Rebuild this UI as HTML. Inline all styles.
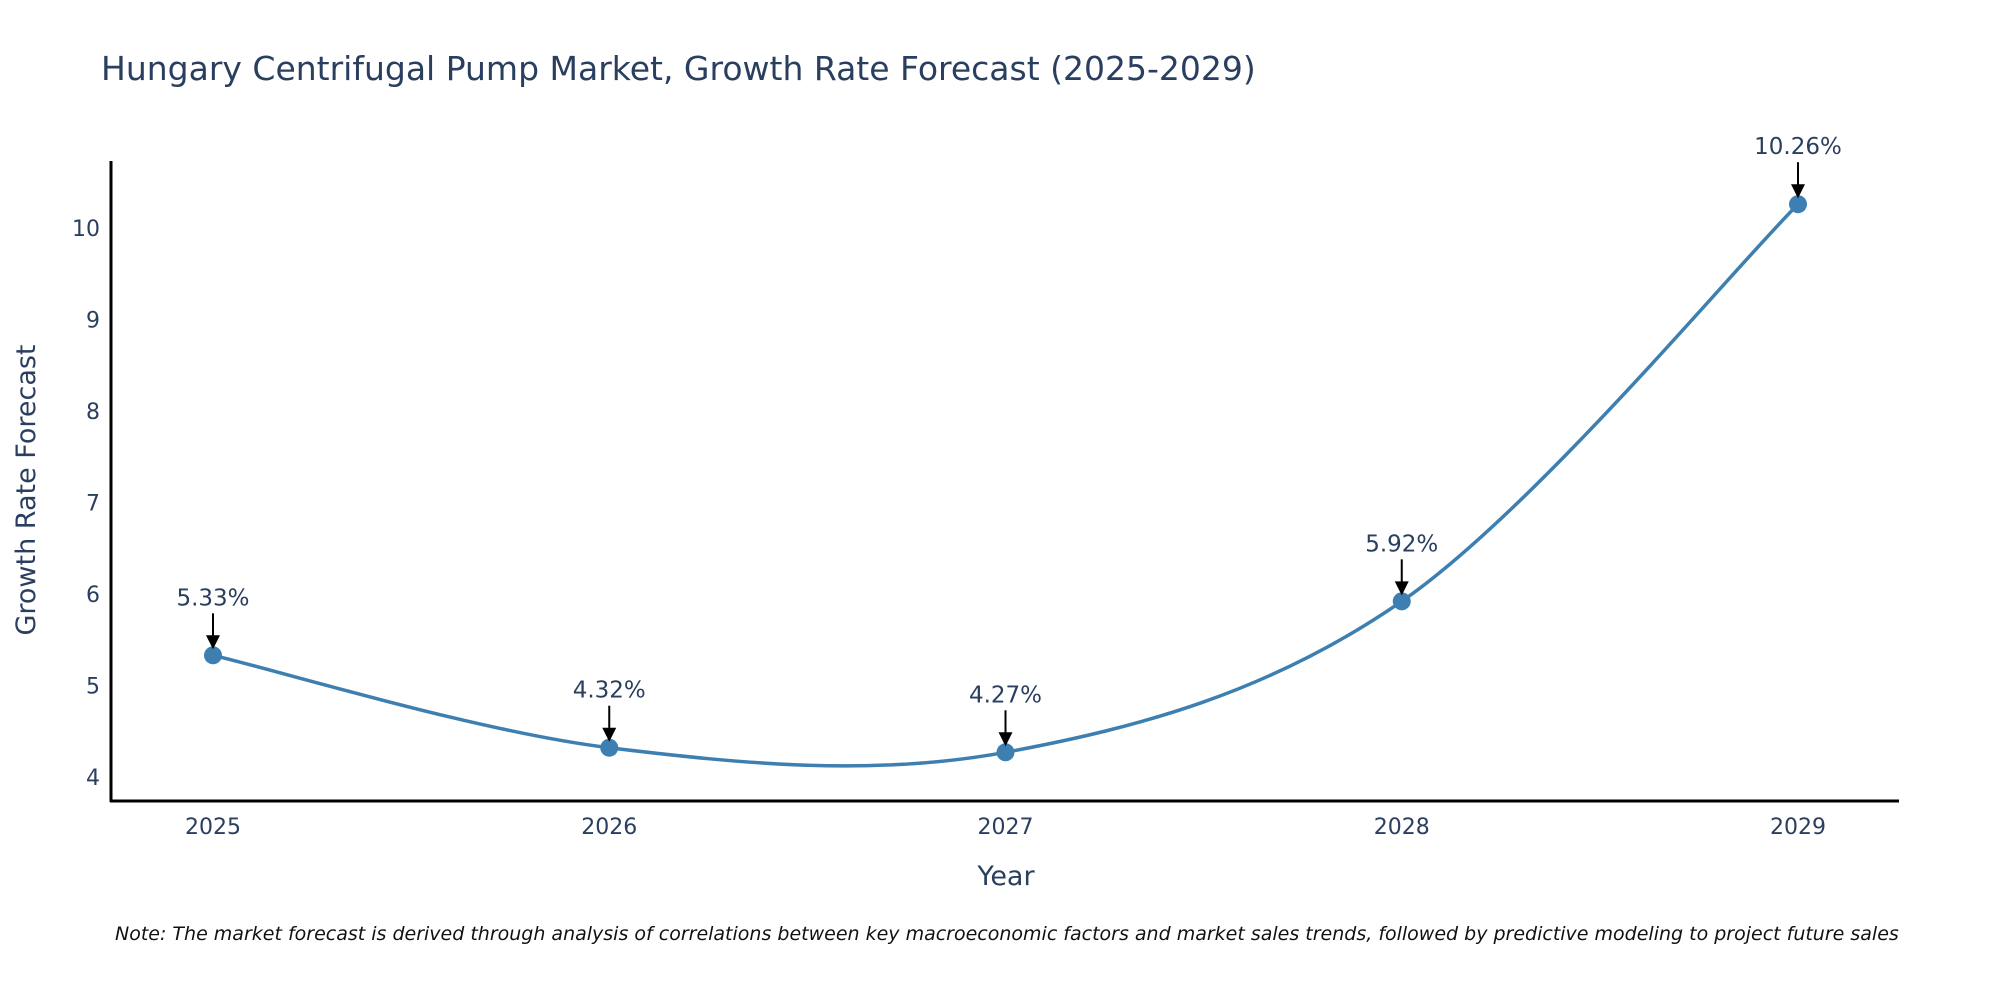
<!DOCTYPE html>
<html><head><meta charset="utf-8"><style>
body{margin:0;background:#fff;}
svg text{font-family:"DejaVu Sans","Liberation Sans",sans-serif;fill:#2a3f5f;}
</style></head><body>
<svg width="2000" height="1000" xmlns="http://www.w3.org/2000/svg">
<text x="101" y="80" font-size="33">Hungary Centrifugal Pump Market, Growth Rate Forecast (2025-2029)</text>
<g id="plot"></g>
<text x="1006" y="885" font-size="27" text-anchor="middle">Year</text>
<text transform="translate(35,490) rotate(-90)" font-size="27" text-anchor="middle">Growth Rate Forecast</text>
<text x="115" y="940" font-size="19" font-style="italic" style="fill:#111">Note: The market forecast is derived through analysis of correlations between key macroeconomic factors and market sales trends, followed by predictive modeling to project future sales</text>
</svg>
<script>
const years = ["2025","2026","2027","2028","2029"];
const values = [5.33, 4.32, 4.27, 5.92, 10.26];
const yTicks = [4,5,6,7,8,9,10];
const NS="http://www.w3.org/2000/svg";
const g=document.getElementById('plot');
const X0=213, XSTEP=396.25, Y10=228, YUNIT=91.5;
const xs=i=>X0+i*XSTEP;
const ys=v=>Y10+(10-v)*YUNIT;
function mk(t,a){const e=document.createElementNS(NS,t);for(const k in a)e.setAttribute(k,a[k]);g.appendChild(e);return e;}
let e;
e=mk('line',{x1:111,y1:161,x2:111,y2:802,stroke:'#000','stroke-width':3});


e=mk('line',{x1:110,y1:801,x2:1899,y2:801,stroke:'#000','stroke-width':3});


yTicks.forEach(v=>{const t=mk('text',{x:100,y:ys(v)+8,'font-size':22,'text-anchor':'end'});t.textContent=v;

});
years.forEach((y,i)=>{const t=mk('text',{x:xs(i),y:834,'font-size':22,'text-anchor':'middle'});t.textContent=y;

});
const P=values.map((v,i)=>[xs(i),ys(v)]);
let d=`M${P[0][0]},${P[0][1]}`;
for(let i=0;i<P.length-1;i++){const p0=P[Math.max(0,i-1)],p1=P[i],p2=P[i+1],p3=P[Math.min(P.length-1,i+2)];
const k=1/6;
d+=` C${p1[0]+(p2[0]-p0[0])*k},${p1[1]+(p2[1]-p0[1])*k} ${p2[0]-(p3[0]-p1[0])*k},${p2[1]-(p3[1]-p1[1])*k} ${p2[0]},${p2[1]}`;}
e=mk('path',{d:d,fill:'none',stroke:'#3d7fb0','stroke-width':3.5});


P.forEach((p,i)=>{
e=mk('circle',{cx:p[0],cy:p[1],r:9,fill:'#3d7fb0'});


e=mk('line',{x1:p[0],y1:p[1]-42,x2:p[0],y2:p[1]-18,stroke:'#000','stroke-width':2});


e=mk('polygon',{points:`${p[0]-7},${p[1]-20} ${p[0]+7},${p[1]-20} ${p[0]},${p[1]-6}`,fill:'#000'});


const t=mk('text',{x:p[0],y:p[1]-50,'font-size':23,'text-anchor':'middle'});t.textContent=values[i].toFixed(2)+'%';


});
</script>
</body></html>
